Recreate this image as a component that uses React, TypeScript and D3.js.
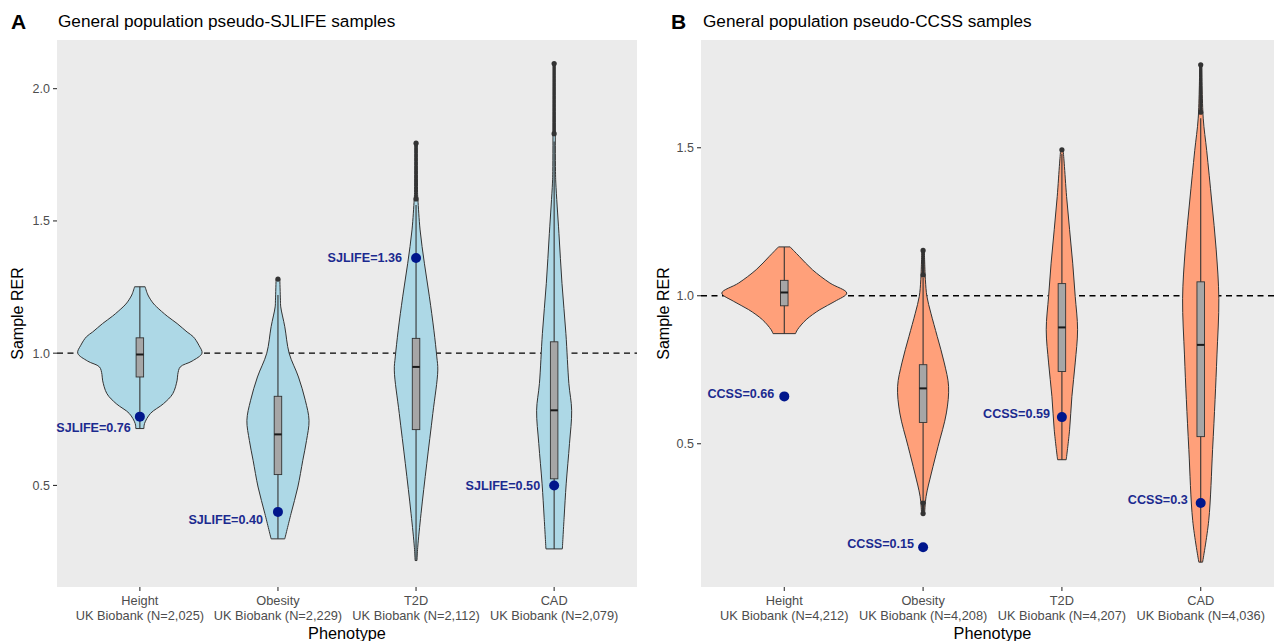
import React from "react";
import * as d3 from "d3";

// categories and labels
const phenotypes = ["Height", "Obesity", "T2D", "CAD"];
const sjlifeN = ["2,025", "2,229", "2,112", "2,079"];
const ccssN = ["4,212", "4,208", "4,207", "4,036"];

// observed cohort RER (blue points)
const sjlifeRER = [0.76, 0.4, 1.36, 0.5];
const sjlifeText = ["0.76", "0.40", "1.36", "0.50"];
const ccssRER = [0.66, 0.15, 0.59, 0.3];
const ccssText = ["0.66", "0.15", "0.59", "0.3"];

// violin profiles: [value, relative density]
const sjlifeViolins = [
  [[1.251, 0.085], [1.22, 0.13], [1.19, 0.21], [1.175, 0.27], [1.14, 0.44], [1.112, 0.6], [1.08, 0.76], [1.062, 0.86], [1.03, 0.95], [1.0, 1.0], [0.97, 0.84], [0.948, 0.65], [0.92, 0.61], [0.898, 0.6], [0.847, 0.53], [0.809, 0.38], [0.772, 0.17], [0.734, 0.075], [0.715, 0.065]],
  [[1.28, 0.03], [1.2, 0.04], [1.175, 0.045], [1.1, 0.11], [1.0, 0.18], [0.91, 0.33], [0.822, 0.44], [0.746, 0.5], [0.67, 0.46], [0.595, 0.4], [0.494, 0.32], [0.393, 0.21], [0.298, 0.11]],
  [[1.794, 0.02], [1.6, 0.025], [1.58, 0.03], [1.466, 0.065], [1.34, 0.134], [1.213, 0.215], [1.087, 0.287], [0.986, 0.334], [0.936, 0.35], [0.772, 0.27], [0.582, 0.172], [0.393, 0.08], [0.266, 0.027], [0.216, 0.015]],
  [[2.095, 0.015], [1.9, 0.018], [1.687, 0.022], [1.643, 0.027], [1.453, 0.077], [1.264, 0.126], [1.075, 0.189], [0.885, 0.237], [0.784, 0.282], [0.658, 0.247], [0.506, 0.194], [0.38, 0.161], [0.26, 0.132]],
];
const ccssViolins = [
  [[1.165, 0.093], [1.133, 0.24], [1.088, 0.45], [1.043, 0.73], [1.009, 1.0], [0.981, 0.81], [0.953, 0.57], [0.919, 0.35], [0.885, 0.21], [0.872, 0.18]],
  [[1.153, 0.02], [1.054, 0.037], [0.998, 0.061], [0.941, 0.125], [0.862, 0.227], [0.773, 0.339], [0.694, 0.408], [0.604, 0.373], [0.491, 0.24], [0.401, 0.133], [0.322, 0.048], [0.264, 0.024]],
  [[1.493, 0.02], [1.448, 0.037], [1.335, 0.075], [1.223, 0.123], [1.11, 0.173], [0.998, 0.213], [0.885, 0.251], [0.773, 0.213], [0.66, 0.16], [0.547, 0.123], [0.446, 0.069]],
  [[1.78, 0.016], [1.6, 0.04], [1.49, 0.096], [1.32, 0.176], [1.155, 0.248], [0.99, 0.29], [0.8, 0.26], [0.65, 0.23], [0.48, 0.19], [0.24, 0.128], [0.1, 0.03]],
];

// box stats: [lower whisker, q1, median, q3, upper whisker]
const sjlifeBoxes = [
  [0.715, 0.91, 0.995, 1.058, 1.251],
  [0.298, 0.541, 0.693, 0.837, 1.22],
  [0.216, 0.711, 0.948, 1.056, 1.56],
  [0.26, 0.525, 0.784, 1.043, 1.8],
];
const ccssBoxes = [
  [0.872, 0.966, 1.011, 1.052, 1.165],
  [0.31, 0.572, 0.687, 0.767, 1.06],
  [0.446, 0.744, 0.893, 1.041, 1.48],
  [0.1, 0.524, 0.834, 1.047, 1.6],
];
// outlier runs (first and last of each dense cluster)
const sjlifeOutliers = [[], [1.28], [1.583, 1.794], [1.83, 2.095]];
const ccssOutliers = [[], [0.264, 0.3, 1.07, 1.153], [1.493], [1.62, 1.78]];

const sjlifeTicks = [0.5, 1.0, 1.5, 2.0];
const ccssTicks = [0.5, 1.0, 1.5];

const FONT = "'Liberation Sans', Arial, sans-serif";

function Panel(props: any) {
  const { letter, title, x0, x1, yDomain, ticks, violins, boxes, outliers, points, pointText, cohort, ns, fill, nudges, letterX, titleX, yTitleX } = props;
  const top = 40;
  const bottom = 587;
  // ggplot discrete expansion: 0.6 units each side
  const x = d3.scalePoint().domain(phenotypes).range([x0 + (x1 - x0) * 0.6 / 4.2, x1 - (x1 - x0) * 0.6 / 4.2]);
  const step = x.step();
  const y = d3.scaleLinear().domain(yDomain).range([bottom, top]);
  const half = 0.45 * step;
  const area = d3
    .area<number[]>()
    .y((d) => y(d[0]))
    .curve(d3.curveCatmullRom.alpha(0.5));
  const boxW = 7.5;

  return (
    <g>
      <text x={letterX} y={29} fontFamily={FONT} fontWeight="bold" fontSize={21} fill="#000">{letter}</text>
      <text x={titleX} y={27} fontFamily={FONT} fontSize={17.2} fill="#000">{title}</text>
      <rect x={x0} y={top} width={x1 - x0} height={bottom - top} fill="#EBEBEB" />
      {ticks.map((t: number) => (
        <g key={t}>
          <line x1={x0 - 4} x2={x0} y1={y(t)} y2={y(t)} stroke="#333" strokeWidth={1.1} />
          <text x={x0 - 7} y={y(t)} dy="0.35em" textAnchor="end" fontFamily={FONT} fontSize={12.5} fill="#4D4D4D">{t.toFixed(1)}</text>
        </g>
      ))}
      <text transform={`translate(${yTitleX},${(top + bottom) / 2}) rotate(-90)`} textAnchor="middle" dy="0.35em" fontFamily={FONT} fontSize={16} fill="#000">Sample RER</text>
      <line x1={x0} x2={x1} y1={y(1)} y2={y(1)} stroke="#000" strokeWidth={1.3} strokeDasharray="6,4.5" />
      {phenotypes.map((p, i) => {
        const c = x(p) as number;
        const prof = violins[i];
        const path = area.x0((d) => c - d[1] * half).x1((d) => c + d[1] * half)(prof) as string;
        const b = boxes[i];
        const outs: number[] = [...outliers[i]].sort((a: number, b2: number) => a - b2);
        const runs = outs.slice(1).map((o, j) => [outs[j], o]).filter((r) => r[1] - r[0] < 0.3);
        return (
          <g key={p}>
            <path d={path} fill={fill} stroke="#333" strokeWidth={1} />
            <line x1={c} x2={c} y1={y(b[4])} y2={y(b[0])} stroke="#333" strokeWidth={1.1} />
            <rect x={c - boxW / 2} y={y(b[3])} width={boxW} height={y(b[1]) - y(b[3])} fill="#A6A6A6" stroke="#333" strokeWidth={0.9} />
            <line x1={c - boxW / 2} x2={c + boxW / 2} y1={y(b[2])} y2={y(b[2])} stroke="#1a1a1a" strokeWidth={2} />
            {runs.map((r, j) => (
              <line key={"r" + j} x1={c} x2={c} y1={y(r[0])} y2={y(r[1])} stroke="#333" strokeWidth={3} />
            ))}
            {outs.map((o: number, j: number) => (
              <circle key={j} cx={c} cy={y(o)} r={2.6} fill="#333" />
            ))}
            <circle cx={c} cy={y(points[i])} r={5} fill="#00168C" />
            <text x={c + nudges[i][0]} y={y(points[i]) + nudges[i][1]} dy="0.35em" textAnchor="end" fontFamily={FONT} fontWeight="bold" fontSize={12.6} fill="#1B2A8F">{`${cohort}=${pointText[i]}`}</text>
            <line x1={c} x2={c} y1={bottom} y2={bottom + 4} stroke="#333" strokeWidth={1.1} />
            <text x={c} y={601} dy="0.35em" textAnchor="middle" fontFamily={FONT} fontSize={12.8} fill="#4D4D4D">{p}</text>
            <text x={c} y={616} dy="0.35em" textAnchor="middle" fontFamily={FONT} fontSize={12.8} fill="#4D4D4D">{`UK Biobank (N=${ns[i]})`}</text>
          </g>
        );
      })}
      <text x={(x0 + x1) / 2} y={633} dy="0.35em" textAnchor="middle" fontFamily={FONT} fontSize={16.3} fill="#000">Phenotype</text>
    </g>
  );
}

export default function App() {
  return (
    <svg width={1274} height={641} style={{ position: "absolute", left: 0, top: 0, background: "#fff" }}>
      <Panel
        letter="A"
        title="General population pseudo-SJLIFE samples"
        x0={57}
        x1={637}
        yDomain={[0.116, 2.184]}
        ticks={sjlifeTicks}
        violins={sjlifeViolins}
        boxes={sjlifeBoxes}
        outliers={sjlifeOutliers}
        points={sjlifeRER}
        pointText={sjlifeText}
        cohort="SJLIFE"
        ns={sjlifeN}
        fill="#ADD8E6"
        nudges={[[-9, 11], [-15, 8], [-14, 0], [-14, 0]]}
        letterX={11}
        titleX={58}
        yTitleX={17}
      />
      <Panel
        letter="B"
        title="General population pseudo-CCSS samples"
        x0={701}
        x1={1284}
        yDomain={[0.016, 1.864]}
        ticks={ccssTicks}
        violins={ccssViolins}
        boxes={ccssBoxes}
        outliers={ccssOutliers}
        points={ccssRER}
        pointText={ccssText}
        cohort="CCSS"
        ns={ccssN}
        fill="#FFA07A"
        nudges={[[-10, -3], [-9, -4], [-12, -4], [-13, -3]]}
        letterX={671}
        titleX={703}
        yTitleX={663}
      />
    </svg>
  );
}
